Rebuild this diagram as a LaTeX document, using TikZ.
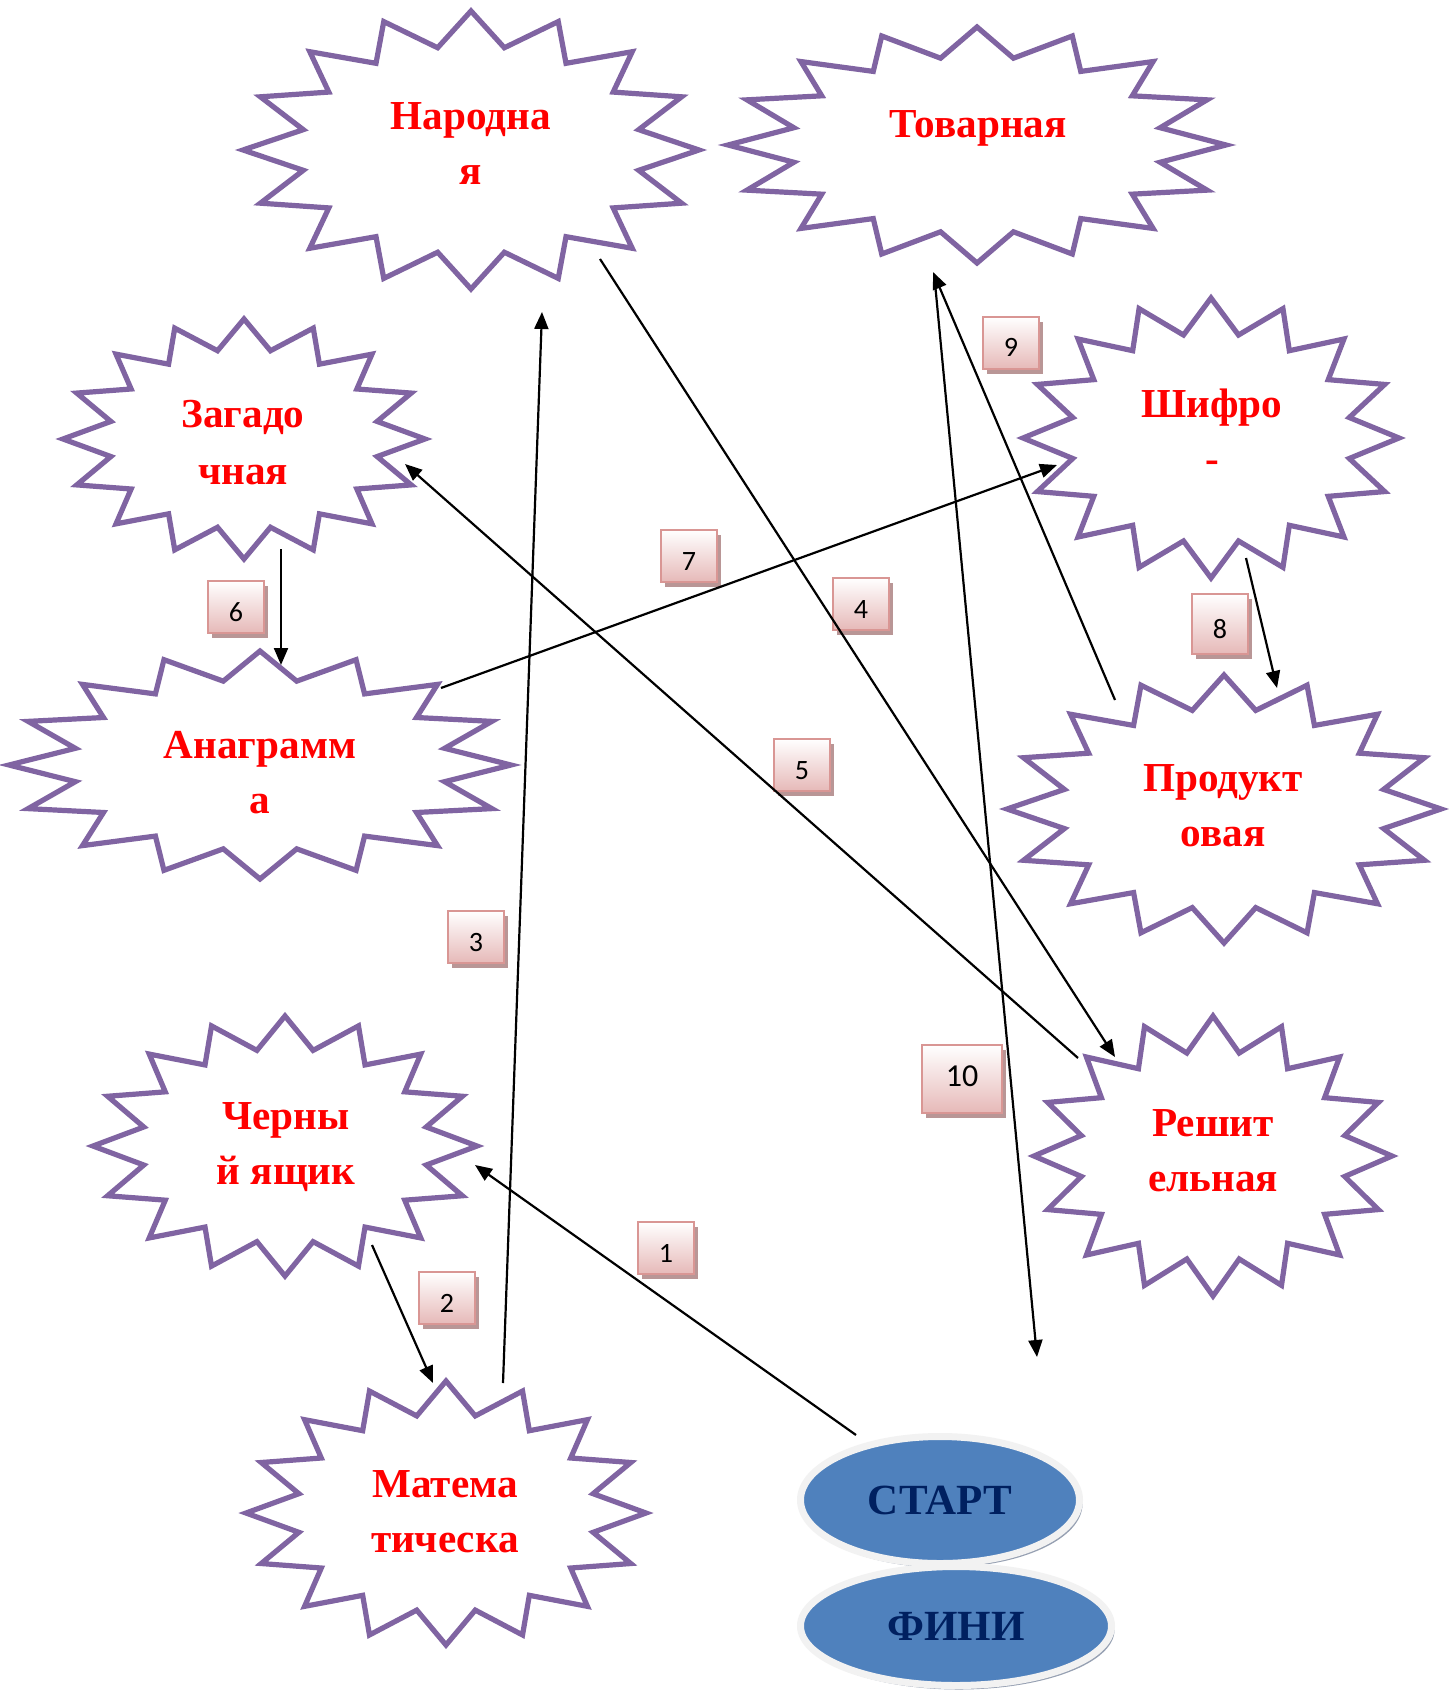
\documentclass[tikz,border=0pt]{standalone}
\usepackage{fontspec}
\setmainfont{Liberation Serif}
\newfontfamily\numfont{Carlito}
\usetikzlibrary{arrows.meta,shadows,calc,shapes.geometric}
\definecolor{burstc}{RGB}{128,100,162}
\definecolor{boxborder}{RGB}{217,150,148}
\definecolor{boxpink}{RGB}{230,185,184}
\definecolor{boxshadow}{RGB}{185,150,150}
\definecolor{ovalblue}{RGB}{79,129,189}
\definecolor{ovalring}{RGB}{242,242,242}
\definecolor{ovalshadow}{RGB}{150,160,178}
\definecolor{ovaltext}{RGB}{0,32,96}
\tikzset{
  burstline/.style={draw=burstc, line width=2.6pt, fill=white},
  lbl/.style={text=red, font=\bfseries\fontsize{20.6}{27.5}\selectfont, anchor=base, inner sep=0pt},
  arr/.style={-{Triangle[length=8.5pt,width=7pt]}, line width=1.1pt, black},
  numbox/.style={draw=boxborder, line width=1pt, top color=white, bottom color=boxpink,
    minimum width=28pt, minimum height=26pt, inner sep=0pt,
    font=\numfont\fontsize{14}{16}\selectfont, text height=14pt, text depth=0pt,
    drop shadow={shadow xshift=2pt, shadow yshift=-2.5pt, fill=boxshadow, opacity=1}},
  oval/.style={ellipse, fill=ovalblue, draw=ovalring, line width=3.5pt, inner sep=0pt,
    font=\bfseries\fontsize{21.5}{24}\selectfont, text=ovaltext,
    drop shadow={shadow xshift=1.5pt, shadow yshift=-2pt, fill=ovalshadow, opacity=1}}
}
\newcommand\drawburst[5]{%
  \coordinate (#1) at (#2,#3);
  \draw[burstline,shift={(#2,#3)}] (90:#4 and #5)
    \foreach \k in {1,...,15}{ -- ({90+22.5*\k-11.25}:{0.75*#4} and {0.75*#5}) -- ({90+22.5*\k}:#4 and #5)}
    -- (78.75:{0.75*#4} and {0.75*#5}) -- cycle;}
\begin{document}
\begin{tikzpicture}[x=0.5pt,y=-0.5pt]
\useasboundingbox[fill=white] (0,0) rectangle (1448,1695);

% bursts
\drawburst{nar}{471}{150}{228}{139}
\drawburst{tov}{977}{145}{249}{118}
\drawburst{zag}{244}{439}{181}{120}
\drawburst{shif}{1211}{438}{188}{140}
\drawburst{anag}{260}{765}{251}{114}
\drawburst{prod}{1224}{809}{217}{134}
\drawburst{cher}{285}{1146}{192}{130}
\drawburst{resh}{1213}{1156}{179}{140}
\drawburst{mat}{446}{1513}{200}{132}

% labels
\node[lbl] (nar1) at (471,130) {Народна};
\node[lbl] (nar2) at (471,185) {я};
\node[lbl] (tov1) at (978,138) {Товарная};
\node[lbl] (zag1) at (243,428) {Загадо};
\node[lbl] (zag2) at (243,484) {чная};
\node[lbl] (shif1) at (1212,418) {Шифро};
\node[lbl] (shif2) at (1212,473) {-};
\node[lbl] (anag1) at (260,758) {Анаграмм};
\node[lbl] (anag2) at (260,813) {а};
\node[lbl] (prod1) at (1223,791) {Продукт};
\node[lbl] (prod2) at (1223,846) {овая};
\node[lbl] (cher1) at (286,1129) {Черны};
\node[lbl] (cher2) at (286,1184) {й ящик};
\node[lbl] (resh1) at (1213,1136) {Решит};
\node[lbl] (resh2) at (1213,1191) {ельная};
\node[lbl] (mat1) at (445,1497) {Матема};
\node[lbl] (mat2) at (445,1552) {тическа};

% start / finish ovals
\node[oval, minimum width=139.5pt, minimum height=63.5pt] (start) at (940,1500) {СТАРТ};
\node[oval, minimum width=155.5pt, minimum height=59.5pt] (fin) at (956,1626) {ФИНИ};
\coordinate (finend) at ($(fin)+(81,-269)$);

% number boxes
\node[numbox] (b1) at (666,1248) {1};
\node[numbox] (b2) at (447,1298) {2};
\node[numbox] (b3) at (476,937) {3};
\node[numbox] (b4) at (861,604) {4};
\node[numbox] (b5) at (802,765) {5};
\node[numbox] (b6) at (236,607) {6};
\node[numbox] (b7) at (689,556) {7};
\node[numbox, minimum height=30pt] (b8) at (1220,624) {8};
\node[numbox] (b9) at (1011,343) {9};
\node[numbox, minimum width=40pt, minimum height=34pt, font=\numfont\fontsize{16}{18}\selectfont, text height=7pt] (b10) at (962,1079) {10};

% connectors
\draw[arr] ($(start)+(-84,-65)$) -- ($(cher)+(190,19)$);
\draw[arr] ($(cher)+(87,99)$) -- ($(mat)+(-13,-130)$);
\draw[arr] ($(mat)+(57,-130)$) -- ($(nar)+(71,162)$);
\draw[arr] ($(nar)+(129,109)$) -- ($(resh)+(-98,-99)$);
\draw[arr] ($(resh)+(-135,-98)$) -- ($(zag)+(161,25)$);
\draw[arr] ($(zag)+(37,110)$) -- ($(anag)+(21,-100)$);
\draw[arr] ($(anag)+(181,-77)$) -- ($(shif)+(-154,27)$);
\draw[arr] ($(shif)+(35,120)$) -- ($(prod)+(53,-121)$);
\draw[arr] ($(prod)+(-109,-109)$) -- ($(tov)+(-44,127)$);
\draw[arr] ($(tov)+(-42,138)$) -- (finend);
\end{tikzpicture}
\end{document}
